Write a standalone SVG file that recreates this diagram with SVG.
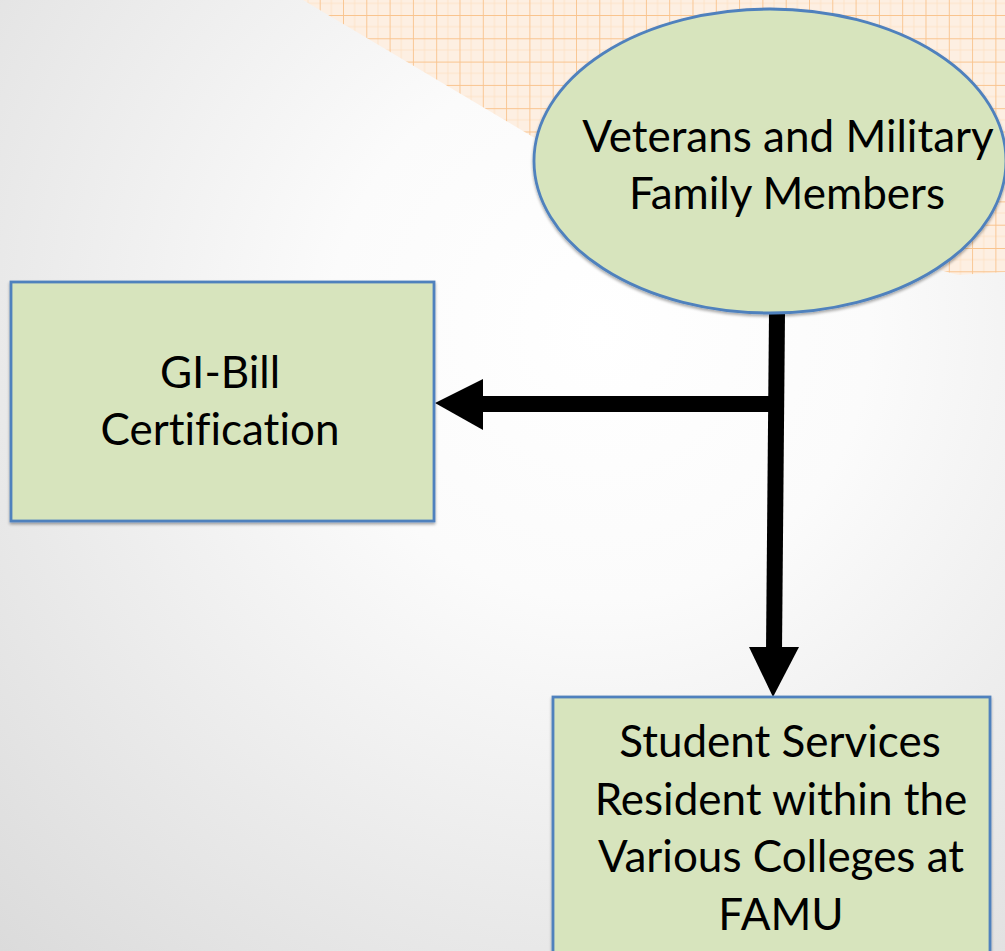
<svg xmlns="http://www.w3.org/2000/svg" width="1005" height="951" viewBox="0 0 1005 951">
  <defs>
    <radialGradient id="bg" gradientUnits="userSpaceOnUse" cx="600" cy="330" r="900">
      <stop offset="0" stop-color="#ffffff"/>
      <stop offset="0.3" stop-color="#fbfbfb"/>
      <stop offset="1" stop-color="#d9d9d9"/>
    </radialGradient>
    <pattern id="grid" patternUnits="userSpaceOnUse" x="343" y="15" width="23.3" height="23.3">
      <rect width="23.3" height="23.3" fill="#fdefe2"/>
      <path d="M11.65,0 V23.3 M0,11.65 H23.3" stroke="#fcdfc2" stroke-width="0.8" fill="none"/>
      <path d="M0,0 V23.3 M0,0 H23.3" stroke="#f9c38d" stroke-width="1.8" fill="none"/>
    </pattern>
    <filter id="sh" x="-10%" y="-10%" width="120%" height="125%">
      <feGaussianBlur in="SourceAlpha" stdDeviation="1.5"/>
      <feOffset dx="0" dy="2" result="b"/>
      <feComponentTransfer><feFuncA type="linear" slope="0.35"/></feComponentTransfer>
      <feMerge><feMergeNode/><feMergeNode in="SourceGraphic"/></feMerge>
    </filter>
  </defs>
  <style>
    .shape { fill: #d7e4bd; stroke: #4f81bd; stroke-width: 2.8; }
    .lbl { font-family: Lato, "Liberation Sans", sans-serif; font-size: 44px; fill: #000; text-anchor: middle; font-variant-ligatures: none; }
    .conn { stroke: #000; stroke-width: 16; fill: none; }
  </style>

  <rect width="1005" height="951" fill="url(#bg)"/>
  <path d="M303,0 L1005,0 L1005,272 L958,275 L760,220 L533,137 Z" fill="url(#grid)"/>

  <g id="connectors">
    <path class="conn" d="M777,313 L774,650"/>
    <path d="M749,647 L799,647 L773,697 Z" fill="#000"/>
    <path class="conn" d="M776,404 L482,404"/>
    <path d="M483,379 L483,430 L435,403 Z" fill="#000"/>
  </g>

  <g id="node-veterans">
    <ellipse class="shape" cx="770" cy="161" rx="236" ry="152" filter="url(#sh)"/>
    <text class="lbl" x="788" y="152">Veterans and Military</text>
    <text class="lbl" x="787" y="209">Family Members</text>
  </g>

  <g id="node-gibill">
    <rect class="shape" x="11" y="282" width="423" height="239" filter="url(#sh)"/>
    <text class="lbl" x="220" y="388">GI-Bill</text>
    <text class="lbl" x="220" y="445">Certification</text>
  </g>

  <g id="node-student">
    <rect class="shape" x="553" y="697" width="437" height="280" filter="url(#sh)"/>
    <text class="lbl" x="780" y="757">Student Services</text>
    <text class="lbl" x="781" y="815">Resident within the</text>
    <text class="lbl" x="781" y="872">Various Colleges at</text>
    <text class="lbl" x="781" y="930">FAMU</text>
  </g>
</svg>
